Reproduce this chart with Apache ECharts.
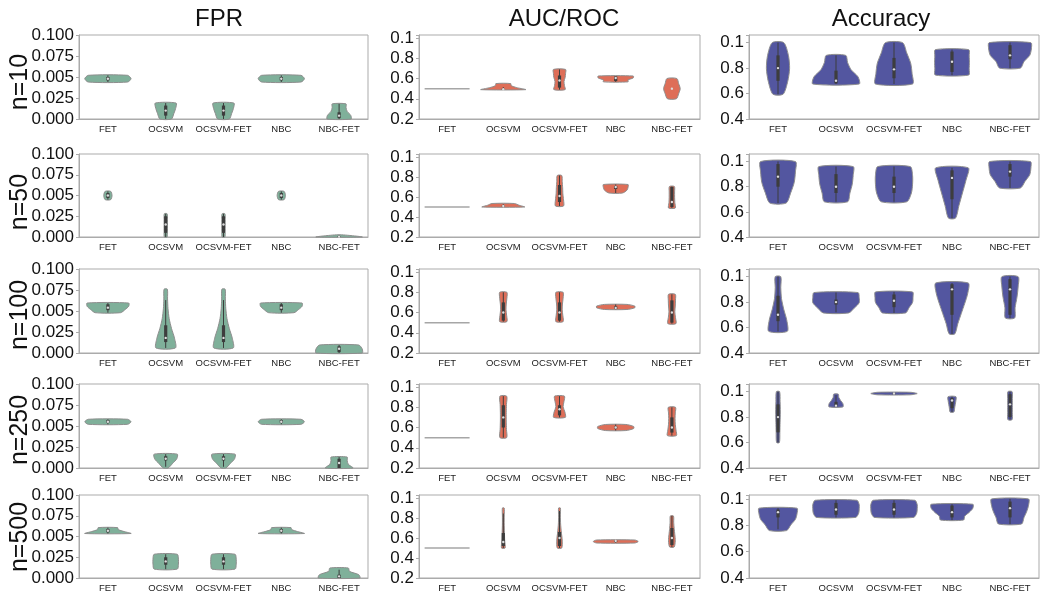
<!DOCTYPE html>
<html>
<head>
<meta charset="utf-8">
<script src="https://cdn.jsdelivr.net/npm/echarts@6/dist/echarts.min.js"></script>
<style>html,body{margin:0;padding:0;background:#fff}#c{width:1043px;height:594px}</style>
</head>
<body>
<div id="c"></div>
<script>
// ---- data ----
// each violin: [min, q1, median, q3, max, [relative widths from min to max]]
const categories = ['FET', 'OCSVM', 'OCSVM-FET', 'NBC', 'NBC-FET'];
const metricTitles = ['FPR', 'AUC/ROC', 'Accuracy'];
const rowLabels = ['n=10', 'n=50', 'n=100', 'n=250', 'n=500'];
const fprTicks = ['0.000', '0.025', '0.005', '0.075', '0.100'];
const aucTicks = ['0.2', '0.4', '0.6', '0.8', '0.1'];
const accTicks = ['0.4', '0.6', '0.8', '0.1'];

const fpr10 = [
  [0.044, 0.046, 0.048, 0.050, 0.052, [0.85, 1.0, 0.85]],
  [0.000, 0.004, 0.010, 0.016, 0.019, [0.25, 0.35, 0.43, 0.45]],
  [0.000, 0.004, 0.010, 0.016, 0.019, [0.25, 0.35, 0.43, 0.45]],
  [0.044, 0.046, 0.048, 0.050, 0.052, [0.85, 1.0, 0.85]],
  [0.000, 0.001, 0.004, 0.008, 0.018, [0.52, 0.5, 0.35, 0.3, 0.3]]
];
const fpr50 = [
  [0.045, 0.047, 0.050, 0.053, 0.055, [0.12, 0.18, 0.12]],
  [0.000, 0.005, 0.015, 0.025, 0.028, [0.06, 0.07, 0.07, 0.07, 0.06]],
  [0.000, 0.005, 0.015, 0.025, 0.028, [0.06, 0.07, 0.07, 0.07, 0.06]],
  [0.045, 0.047, 0.050, 0.053, 0.055, [0.12, 0.18, 0.12]],
  [0.000, 0.000, 0.0005, 0.001, 0.0025, [1.0, 0.2]]
];
const fpr100 = [
  [0.048, 0.051, 0.054, 0.058, 0.0595, [0.55, 0.75, 0.9, 0.9]],
  [0.006, 0.013, 0.018, 0.033, 0.076, [0.42, 0.38, 0.25, 0.15, 0.1, 0.08, 0.07]],
  [0.006, 0.013, 0.018, 0.033, 0.076, [0.42, 0.38, 0.25, 0.15, 0.1, 0.08, 0.07]],
  [0.048, 0.051, 0.054, 0.058, 0.0595, [0.55, 0.75, 0.9, 0.9]],
  [0.000, 0.001, 0.005, 0.008, 0.0095, [1.0, 1.0, 0.85]]
];
const fpr250 = [
  [0.052, 0.054, 0.055, 0.057, 0.058, [0.85, 1.0, 0.85]],
  [0.000, 0.009, 0.011, 0.014, 0.0165, [0.1, 0.3, 0.48, 0.5]],
  [0.000, 0.009, 0.011, 0.014, 0.0165, [0.1, 0.3, 0.48, 0.5]],
  [0.052, 0.054, 0.055, 0.057, 0.058, [0.85, 1.0, 0.85]],
  [0.000, 0.000, 0.006, 0.011, 0.013, [0.6, 0.4, 0.35, 0.35]]
];
const fpr500 = [
  [0.0536, 0.055, 0.057, 0.059, 0.0607, [1.0, 0.7, 0.45, 0.42]],
  [0.0107, 0.016, 0.020, 0.025, 0.0286, [0.5, 0.55, 0.55, 0.5]],
  [0.0107, 0.016, 0.020, 0.025, 0.0286, [0.5, 0.55, 0.55, 0.5]],
  [0.0536, 0.055, 0.057, 0.059, 0.0607, [1.0, 0.7, 0.45, 0.42]],
  [0.000, 0.000, 0.002, 0.004, 0.012, [0.9, 0.85, 0.45, 0.4]]
];

const auc10 = [
  [0.5, 0.5, 0.5, 0.5, 0.5, [1.0]],
  [0.49, 0.49, 0.495, 0.5, 0.55, [1.0, 0.6, 0.35, 0.33]],
  [0.49, 0.51, 0.58, 0.63, 0.69, [0.25, 0.22, 0.2, 0.25, 0.27, 0.27]],
  [0.567, 0.575, 0.605, 0.62, 0.625, [0.55, 0.55, 0.78, 0.78]],
  [0.4, 0.5, 0.5, 0.5, 0.6, [0.2, 0.3, 0.37, 0.3, 0.22]]
];
const auc50 = [
  [0.5, 0.5, 0.5, 0.5, 0.5, [1.0]],
  [0.5, 0.505, 0.51, 0.515, 0.535, [0.95, 0.7, 0.5]],
  [0.51, 0.55, 0.61, 0.72, 0.815, [0.18, 0.18, 0.15, 0.14, 0.12, 0.1]],
  [0.64, 0.68, 0.7, 0.71, 0.725, [0.3, 0.5, 0.55, 0.55]],
  [0.49, 0.5, 0.55, 0.7, 0.705, [0.15, 0.13, 0.12, 0.12, 0.11]]
];
const auc100 = [
  [0.5, 0.5, 0.5, 0.5, 0.5, [1.0]],
  [0.51, 0.52, 0.6, 0.7, 0.8, [0.16, 0.15, 0.12, 0.13, 0.16, 0.16]],
  [0.51, 0.52, 0.6, 0.7, 0.8, [0.16, 0.15, 0.12, 0.13, 0.16, 0.16]],
  [0.63, 0.635, 0.645, 0.66, 0.68, [0.5, 0.85, 0.85, 0.5]],
  [0.49, 0.5, 0.6, 0.72, 0.78, [0.18, 0.16, 0.13, 0.15, 0.16, 0.15]]
];
const auc250 = [
  [0.5, 0.5, 0.5, 0.5, 0.5, [1.0]],
  [0.5, 0.6, 0.7, 0.82, 0.91, [0.15, 0.14, 0.13, 0.13, 0.14, 0.15]],
  [0.7, 0.72, 0.78, 0.82, 0.91, [0.26, 0.24, 0.16, 0.2, 0.22]],
  [0.57, 0.59, 0.6, 0.61, 0.63, [0.45, 0.8, 0.8, 0.45]],
  [0.52, 0.55, 0.6, 0.7, 0.8, [0.2, 0.18, 0.15, 0.14, 0.15, 0.16]]
];
const auc500 = [
  [0.5, 0.5, 0.5, 0.5, 0.5, [1.0]],
  [0.5, 0.52, 0.56, 0.65, 0.9, [0.08, 0.06, 0.05, 0.04, 0.04, 0.04]],
  [0.5, 0.52, 0.6, 0.66, 0.9, [0.1, 0.12, 0.08, 0.05, 0.04, 0.04]],
  [0.55, 0.56, 0.57, 0.575, 0.58, [0.85, 1.0, 0.85]],
  [0.51, 0.53, 0.6, 0.7, 0.82, [0.1, 0.15, 0.13, 0.1, 0.08, 0.07]]
];

const acc10 = [
  [0.595, 0.7, 0.8, 0.9, 1.0, [0.22, 0.42, 0.5, 0.45, 0.25]],
  [0.675, 0.68, 0.7, 0.78, 0.9, [1.0, 0.95, 0.65, 0.5, 0.42]],
  [0.675, 0.72, 0.79, 0.88, 1.0, [0.8, 0.78, 0.72, 0.55, 0.37]],
  [0.745, 0.77, 0.85, 0.93, 0.945, [0.72, 0.74, 0.75, 0.74, 0.72]],
  [0.8, 0.87, 0.9, 0.98, 1.0, [0.45, 0.6, 0.85, 0.92, 0.9]]
];
const acc50 = [
  [0.67, 0.8, 0.88, 0.98, 1.0, [0.35, 0.55, 0.7, 0.75, 0.75]],
  [0.68, 0.75, 0.8, 0.9, 0.96, [0.5, 0.6, 0.7, 0.74, 0.74]],
  [0.68, 0.75, 0.8, 0.88, 0.96, [0.55, 0.75, 0.8, 0.8, 0.7]],
  [0.55, 0.7, 0.87, 0.93, 0.95, [0.15, 0.3, 0.45, 0.6, 0.7]],
  [0.79, 0.88, 0.92, 0.98, 1.0, [0.45, 0.65, 0.85, 0.9, 0.88]]
];
const acc100 = [
  [0.57, 0.65, 0.7, 0.85, 1.0, [0.4, 0.38, 0.25, 0.15, 0.12, 0.12]],
  [0.715, 0.78, 0.8, 0.82, 0.875, [0.55, 0.8, 1.0, 1.0, 0.95]],
  [0.715, 0.76, 0.81, 0.86, 0.88, [0.5, 0.65, 0.8, 0.82, 0.8]],
  [0.55, 0.7, 0.9, 0.94, 0.95, [0.12, 0.25, 0.4, 0.55, 0.68, 0.7]],
  [0.675, 0.7, 0.9, 0.98, 1.0, [0.2, 0.22, 0.3, 0.35, 0.35]]
];
const acc250 = [
  [0.6, 0.68, 0.8, 0.9, 1.0, [0.06, 0.08, 0.09, 0.1, 0.09, 0.07]],
  [0.88, 0.885, 0.89, 0.92, 0.98, [0.3, 0.3, 0.2, 0.12, 0.1]],
  [0.975, 0.98, 0.985, 0.99, 0.995, [0.7, 1.0, 0.7]],
  [0.84, 0.87, 0.93, 0.95, 0.96, [0.08, 0.12, 0.16, 0.17]],
  [0.78, 0.8, 0.9, 0.98, 1.0, [0.09, 0.1, 0.1, 0.1, 0.09]]
];
const acc500 = [
  [0.76, 0.86, 0.9, 0.92, 0.93, [0.37, 0.55, 0.75, 0.82, 0.82]],
  [0.86, 0.88, 0.92, 0.97, 0.99, [0.85, 0.98, 1.0, 1.0, 0.9]],
  [0.86, 0.88, 0.92, 0.97, 0.99, [0.85, 0.98, 1.0, 1.0, 0.9]],
  [0.84, 0.86, 0.9, 0.95, 0.96, [0.5, 0.55, 0.75, 0.9, 0.9]],
  [0.81, 0.86, 0.93, 0.98, 1.0, [0.5, 0.6, 0.72, 0.8, 0.8]]
];

const panelRows = [
  [fpr10, auc10, acc10],
  [fpr50, auc50, acc50],
  [fpr100, auc100, acc100],
  [fpr250, auc250, acc250],
  [fpr500, auc500, acc500]
];

// ---- layout & style ----
const FONT = 'Liberation Sans, Arial, sans-serif';
const colLeft = [79, 419, 749];
const colRight = [368, 700, 1039];
const rowTop = [35, 154, 269, 384, 495];
const rowBottom = [119, 237, 353, 468, 578];
const fills = ['#7fb09a', '#de6e58', '#5356a0'];
const axisSpec = [
  {min: 0, max: 0.1, interval: 0.025, ticks: fprTicks},
  {min: 0.2, max: 1.03, interval: 0.2, ticks: aucTicks},
  {min: 0.4, max: 1.06, interval: 0.2, ticks: accTicks}
];

function makeRender(arr, color) {
  return function (params, api) {
    const d = arr[params.dataIndex];
    const lo = d[0], q1 = d[1], med = d[2], q3 = d[3], hi = d[4], w = d[5];
    const i = api.value(0);
    const half = api.size([1, 0])[0] * 0.4;
    const cx = api.coord([i, lo])[0];
    const children = [];
    if (hi - lo < 1e-9) {
      const y = api.coord([i, lo])[1];
      children.push({type: 'line', shape: {x1: cx - w[0] * half, y1: y, x2: cx + w[0] * half, y2: y},
        style: {stroke: '#a6a6a6', lineWidth: 1.5}});
      return {type: 'group', children: children};
    }
    const m = w.length;
    const left = [], right = [];
    for (let k = 0; k < m; k++) {
      const y = api.coord([i, lo + (hi - lo) * k / (m - 1)])[1];
      left.push([cx - w[k] * half, y]);
      right.unshift([cx + w[k] * half, y]);
    }
    children.push({type: 'polygon', shape: {points: left.concat(right), smooth: 0.25},
      style: {fill: color, stroke: '#8e8e8e', lineWidth: 1}});
    const iqr = q3 - q1;
    const wl = Math.max(lo, q1 - 1.5 * iqr), wh = Math.min(hi, q3 + 1.5 * iqr);
    const yl = api.coord([i, wl])[1], yh = api.coord([i, wh])[1];
    children.push({type: 'line', shape: {x1: cx, y1: yl, x2: cx, y2: yh}, style: {stroke: '#3d3d3d', lineWidth: 1}});
    if (q3 > q1) {
      const y1 = api.coord([i, q1])[1], y3 = api.coord([i, q3])[1];
      children.push({type: 'line', shape: {x1: cx, y1: y1, x2: cx, y2: y3}, style: {stroke: '#3d3d3d', lineWidth: 3.2}});
    }
    const ym = api.coord([i, med])[1];
    children.push({type: 'circle', shape: {cx: cx, cy: ym, r: 1.2}, style: {fill: '#dcdcdc'}});
    return {type: 'group', children: children};
  };
}

const grids = [], xAxes = [], yAxes = [], series = [];
for (let r = 0; r < 5; r++) {
  for (let c = 0; c < 3; c++) {
    const k = grids.length;
    const spec = axisSpec[c];
    const ymax = (c === 2 && r === 4) ? 1.03 : spec.max;
    grids.push({left: colLeft[c], top: rowTop[r], width: colRight[c] - colLeft[c], height: rowBottom[r] - rowTop[r],
      show: true, borderColor: '#ababab', borderWidth: 1});
    xAxes.push({type: 'category', gridIndex: k, data: categories, boundaryGap: true,
      axisLine: {show: true, lineStyle: {color: '#ababab'}},
      axisTick: {show: false},
      axisLabel: {interval: 0, fontSize: 9.5, color: '#222', fontFamily: FONT, margin: 5}});
    yAxes.push({type: 'value', gridIndex: k, min: spec.min, max: ymax, interval: spec.interval,
      splitLine: {show: false},
      axisLine: {show: true, lineStyle: {color: '#ababab'}},
      axisTick: {show: true, length: 3, lineStyle: {color: '#ababab'}},
      axisLabel: {fontSize: 17, color: '#111', fontFamily: FONT, margin: 5, showMaxLabel: true,
        formatter: (function (s) {
          return function (v) {
            const idx = (v - s.min) / s.interval;
            const ri = Math.round(idx);
            if (Math.abs(idx - ri) > 0.01) return '';
            return s.ticks[ri] || '';
          };
        })(spec)}});
    const arr = panelRows[r][c];
    series.push({type: 'custom', xAxisIndex: k, yAxisIndex: k, clip: false,
      data: arr.map(function (d, i) { return [i, d[0], d[4]]; }),
      encode: {x: 0, y: [1, 2]},
      renderItem: makeRender(arr, fills[c])});
  }
}

const titleX = [219, 564, 881];
const rowLabelY = [82, 202, 315, 430, 537];
const graphics = [];
metricTitles.forEach(function (t, c) {
  graphics.push({type: 'text', x: titleX[c], y: 19,
    style: {text: t, fontSize: 24, fontFamily: FONT, fill: '#111', align: 'center', verticalAlign: 'middle'}});
});
rowLabels.forEach(function (t, r) {
  graphics.push({type: 'text', x: 20, y: rowLabelY[r], rotation: Math.PI / 2,
    style: {text: t, fontSize: 25, fontFamily: FONT, fill: '#111', align: 'center', verticalAlign: 'middle'}});
});

const chart = echarts.init(document.getElementById('c'), null, {renderer: 'canvas'});
chart.setOption({
  animation: false,
  backgroundColor: '#ffffff',
  grid: grids, xAxis: xAxes, yAxis: yAxes, series: series,
  graphic: graphics
});
</script>
</body>
</html>
